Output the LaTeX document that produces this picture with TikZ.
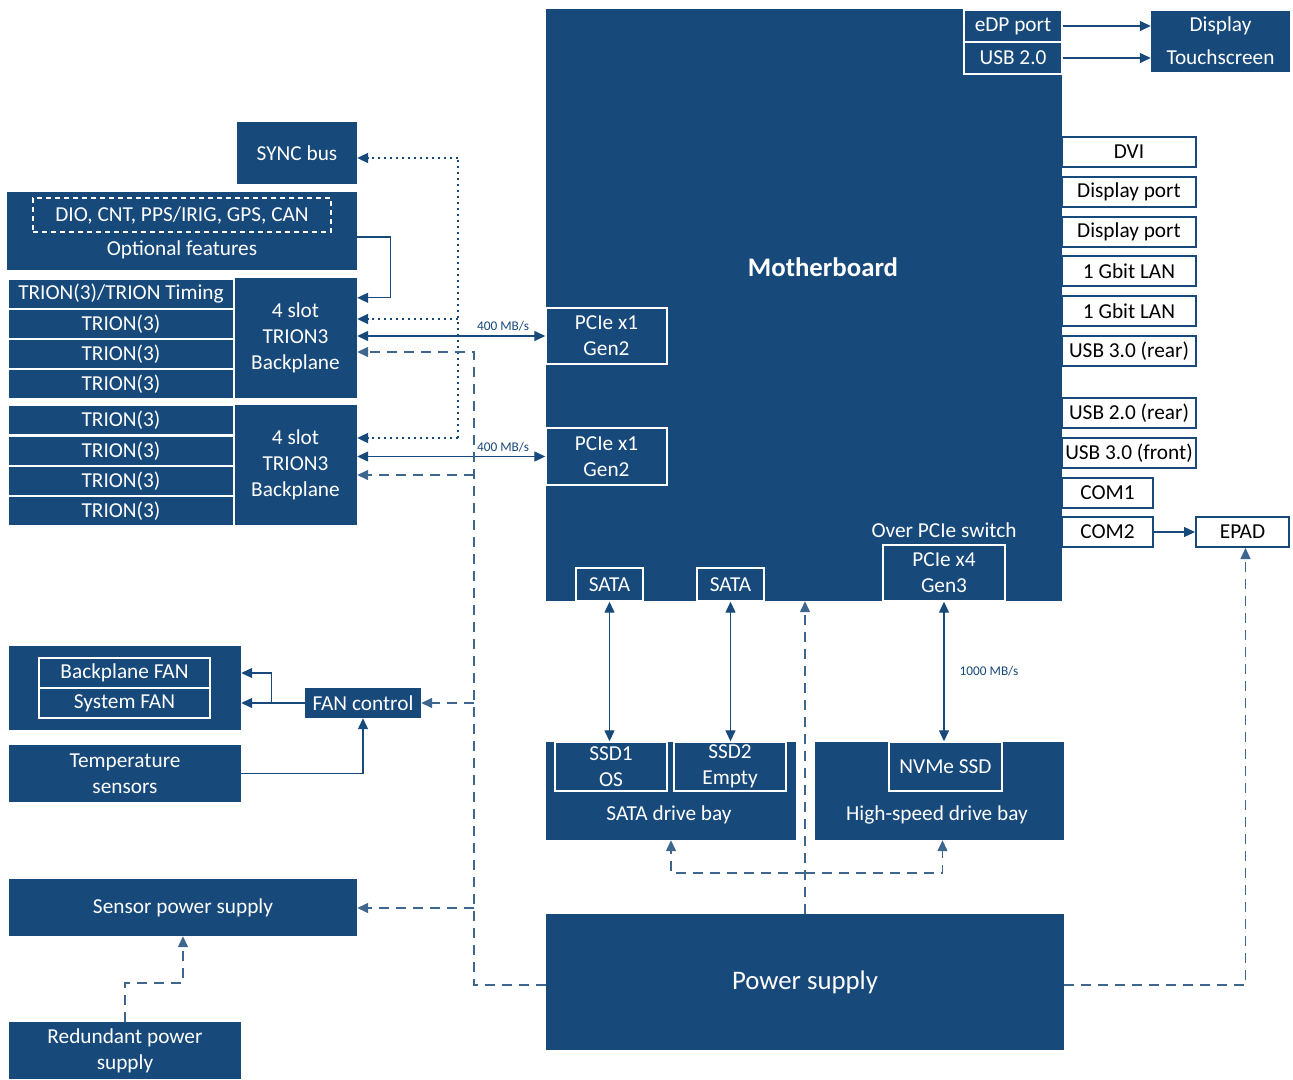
\documentclass[tikz,border=0pt]{standalone}
\usepackage{fontspec}
\setmainfont{Carlito}
\usetikzlibrary{arrows.meta,calc}
\definecolor{mblue}{HTML}{17497B}
\definecolor{lblue}{HTML}{3F668F}
\newcommand\fs{\fontsize{21.3}{26}\selectfont}
\begin{document}
\begin{tikzpicture}[x=1pt,y=-1pt,
  wh/.style 2 args={minimum width=#1pt, minimum height=#2pt},
  box/.style={fill=mblue, text=white, inner sep=0pt, align=center, font=\fs},
  wbox/.style={box, draw=white, line width=1.4pt},
  port/.style={fill=white, draw=mblue, line width=2pt, text=black, inner sep=0pt, align=center, font=\fs},
  tip/.style={-{Triangle[length=11pt,width=10pt]}},
  arr/.style={draw=mblue, line width=1.3pt, tip},
  darr/.style={draw=mblue, line width=1.3pt, {Triangle[length=11pt,width=10pt]}-{Triangle[length=11pt,width=10pt]}},
  dasharr/.style={draw=lblue, line width=1.4pt, dash pattern=on 10pt off 7pt, tip},
  dashline/.style={draw=lblue, line width=1.4pt, dash pattern=on 10pt off 7pt},
  dotarr/.style={draw=mblue, line width=2pt, dash pattern=on 2pt off 4pt, tip},
  dotline/.style={draw=mblue, line width=2pt, dash pattern=on 2pt off 4pt},
  rate/.style={text=mblue, font=\fontsize{13.3}{15}\selectfont, inner sep=1pt},
  lab/.style={text=white, font=\fs, inner sep=0pt}
]
\useasboundingbox (0,0) rectangle (1293,1079);

% Motherboard
\node[box, wh={516}{592}] (mb) at (804,305) {};
\node[text=white, font=\fontsize{26.8}{30}\selectfont\bfseries] (mblabel) at (823,267) {Motherboard};
\node[wbox, wh={98}{32}] (edp) at (1013,26) {eDP port};
\node[wbox, wh={98}{32}] (usbtwo) at (1013,58) {USB 2.0};
\node[box, wh={139}{31}] (display) at (1220.5,26) {Display};
\node[box, wh={139}{30}] (touch) at (1220.5,57) {Touchscreen};

\node[wbox, wh={121}{56}] (pcieA) at (606.5,336) {PCIe x1\\Gen2};
\node[wbox, wh={121}{57}] (pcieB) at (606.5,456.5) {PCIe x1\\Gen2};
\node[wbox, wh={67}{33}] (sataA) at (609.5,584.5) {SATA};
\node[wbox, wh={67}{33}] (sataB) at (730.5,584.5) {SATA};
\node[wbox, wh={122}{56}] (pcieC) at (944,573) {PCIe x4\\Gen3};
\node[lab] (overpcie) at (944,530) {Over PCIe switch};

% right ports
\node[port, wh={134}{30}] (dvi) at (1129,152) {DVI};
\node[port, wh={134}{30}] (dpA) at (1129,192) {Display port};
\node[port, wh={134}{30}] (dpB) at (1129,232) {Display port};
\node[port, wh={134}{30}] (lanA) at (1129,271) {1 Gbit LAN};
\node[port, wh={134}{30}] (lanB) at (1129,311) {1 Gbit LAN};
\node[port, wh={134}{30}] (usbrear) at (1129,351) {USB 3.0 (rear)};
\node[port, wh={134}{30}] (usbtworear) at (1129,413) {USB 2.0 (rear)};
\node[port, wh={134}{30}] (usbfront) at (1129,453) {USB 3.0 (front)};
\node[port, wh={91}{30}] (comA) at (1107.5,493) {COM1};
\node[port, wh={91}{30}] (comB) at (1107.5,532) {COM2};
\node[port, wh={93}{30}] (epad) at (1242.5,532) {EPAD};

% drive bays
\node[box, wh={250}{98}] (satabay) at (671,791) {};
\node[lab] (satabaylabel) at (669,815) {SATA drive bay};
\node[wbox, wh={112}{49}] (ssdA) at (611,766.5) {SSD1\\OS};
\node[wbox, wh={112}{49}] (ssdB) at (730,766.5) {SSD2\\Empty};
\node[box, wh={249}{98}] (hsbay) at (939.5,791) {};
\node[lab] (hsbaylabel) at (937,815) {High-speed drive bay};
\node[wbox, wh={113}{49}] (nvme) at (945.5,766.5) {NVMe SSD};

% power supply
\node[box, wh={518}{136}, font=\fontsize{26.8}{30}\selectfont] (ps) at (805,982) {\raisebox{-4pt}{Power supply}};

% left side
\node[box, wh={120}{62}] (sync) at (297,153) {SYNC bus};
\node[box, wh={350}{78}] (opt) at (182,231) {};
\node[draw=white, line width=1.2pt, dash pattern=on 5pt off 4pt, text=white, inner sep=0pt, wh={298}{34}, font=\fs] (optdash) at (182,215) {DIO, CNT, PPS/IRIG, GPS, CAN};
\node[lab] (optlabel) at (182,250) {Optional features};

\node[box, wh={123}{120}] (bpA) at (295.5,338) {4 slot\\TRION3\\Backplane};
\node[wbox, wh={226}{30}] (tA) at (121,294) {TRION(3)/TRION Timing};
\node[wbox, wh={226}{30}] (tB) at (121,324) {TRION(3)};
\node[wbox, wh={226}{30}] (tC) at (121,354) {TRION(3)};
\node[wbox, wh={226}{30}] (tD) at (121,384) {TRION(3)};
\node[box, wh={123}{120}] (bpB) at (295.5,465) {4 slot\\TRION3\\Backplane};
\node[wbox, wh={226}{30}] (tE) at (121,420) {TRION(3)};
\node[wbox, wh={226}{30}] (tF) at (121,451) {TRION(3)};
\node[wbox, wh={226}{30}] (tG) at (121,481) {TRION(3)};
\node[wbox, wh={226}{30}] (tH) at (121,511) {TRION(3)};

\node[box, wh={232}{84}] (fanblk) at (125,688) {};
\node[wbox, wh={171}{30}] (bpfan) at (124.5,673) {Backplane FAN};
\node[wbox, wh={171}{30}] (sysfan) at (124.5,703) {System FAN};
\node[box, wh={116}{30}] (fanctl) at (363,703) {FAN control};
\node[box, wh={232}{57}] (temp) at (125,773.5) {Temperature\\sensors};
\node[box, wh={348}{57}] (sps) at (183,907.5) {Sensor power supply};
\node[box, wh={232}{57}] (rps) at (125,1050.5) {Redundant power\\supply};

% coordinates
\coordinate (dtop) at (458,158);
\coordinate (dmid) at (458,319);
\coordinate (dbot) at (458,438);
\coordinate (bA) at (474,352);
\coordinate (bB) at (474,475);
\coordinate (bF) at (474,703);
\coordinate (bS) at (474,908);
\coordinate (pj) at (805,873);
\coordinate (pw) at (546,985);
\coordinate (pe) at (1064,985);

% connectors
\draw[arr] (edp.east) -- (display.west);
\draw[arr] (usbtwo.east) -- (usbtwo.east -| touch.west);
\draw[arr] (comB.east) -- (epad.west);
\draw[darr] (sataA.south) -- (sataA.south |- ssdA.north);
\draw[darr] (sataB.south) -- (sataB.south |- ssdB.north);
\draw[darr] (pcieC.south) -- (pcieC.south |- nvme.north) node[rate, midway, right=14pt] {1000 MB/s};
\draw[darr] (pcieA.west -| bpA.east) -- (pcieA.west);
\node[rate] (rateA) at (503,326) {400 MB/s};
\draw[darr] (pcieB.west -| bpB.east) -- (pcieB.west);
\node[rate] (rateB) at (503,447) {400 MB/s};

\draw[arr] ($(opt.east)+(0,6)$) -- ++(33,0) |- ($(bpA.north east)+(0,20)$);

\draw[dotline] (dbot) -- (dtop);
\draw[dotarr] (dtop) -- (dtop -| sync.east);
\draw[dotarr] (dmid) -- (dmid -| bpA.east);
\draw[dotarr] (dbot) -- (dbot -| bpB.east);

\draw[dasharr] (pw) -| (bA) -- (bA -| bpA.east);
\draw[dasharr] (bB) -- (bB -| bpB.east);
\draw[dasharr] (bF) -- (fanctl.east);
\draw[dasharr] (bS) -- (bS -| sps.east);

\draw[dasharr] (ps.north) -- (ps.north |- mb.south);
\draw[dasharr] (pj) -| (satabay.south);
\draw[dasharr] (pj) -| ($(hsbay.south)+(3,0)$);
\draw[dasharr] (pe) -| ($(epad.south)+(3,0)$);

\draw[arr] (fanctl.west) -- (fanctl.west -| fanblk.east);
\draw[arr] ($(fanctl.west)+(-33,0)$) |- (bpfan.east -| fanblk.east);
\draw[arr] (temp.east) -| (fanctl.south);
\draw[dasharr] (rps.north) -- ++(0,-39) -| (sps.south);
\end{tikzpicture}
\end{document}
